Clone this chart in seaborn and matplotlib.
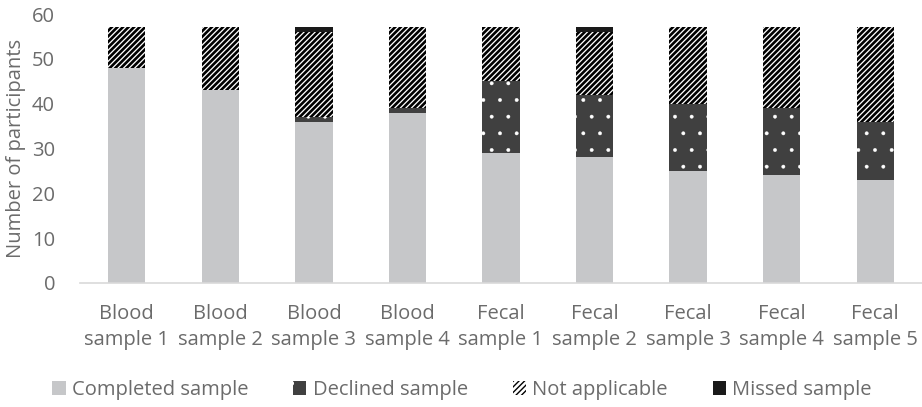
import numpy as np
import pandas as pd
import seaborn as sns
import matplotlib.pyplot as plt
from matplotlib.patches import Patch

# Participant counts per sample type
categories = ["Blood\nsample 1", "Blood\nsample 2", "Blood\nsample 3", "Blood\nsample 4",
              "Fecal\nsample 1", "Fecal\nsample 2", "Fecal\nsample 3", "Fecal\nsample 4",
              "Fecal\nsample 5"]
completed = [48, 43, 36, 38, 29, 28, 25, 24, 23]
declined = [0, 0, 1, 1, 16, 14, 15, 15, 13]
not_applicable = [9, 14, 19, 18, 12, 14, 17, 18, 21]
missed = [0, 0, 1, 0, 0, 1, 0, 0, 0]
series_names = ["Completed sample", "Declined sample", "Not applicable", "Missed sample"]
y_ticks = [0, 10, 20, 30, 40, 50, 60]

sns.set_theme(style="white")
plt.rcParams["font.family"] = ["Open Sans", "DejaVu Sans"]
TEXT = "#6b6b6b"
FS = 14.5

df = pd.DataFrame({"cat": categories, "completed": completed, "declined": declined,
                   "na": not_applicable, "missed": missed})
df["c1"] = df["completed"]
df["c2"] = df["c1"] + df["declined"]
df["c3"] = df["c2"] + df["na"]
df["c4"] = df["c3"] + df["missed"]

fig = plt.figure(figsize=(9.22, 4.07), dpi=100)
ax = fig.add_axes([80 / 922, (407 - 283) / 407, 842 / 922, 269 / 407])

styles = {
    "c4": dict(color="#1a1a1a", edgecolor="#1a1a1a", hatch=None, hlw=1.0),
    "c3": dict(color="white", edgecolor="black", hatch="//////", hlw=1.9),
    "c2": dict(color="#404040", edgecolor="white", hatch=".", hlw=0.3),
    "c1": dict(color="#c6c7c9", edgecolor="#c6c7c9", hatch=None, hlw=1.0),
}

# Stack by overlaying cumulative totals, tallest first
for col in ["c4", "c3", "c2", "c1"]:
    st = styles[col]
    n_before = len(ax.patches)
    with plt.rc_context({"hatch.linewidth": st["hlw"]}):
        sns.barplot(data=df, x="cat", y=col, order=categories, ax=ax,
                    color=st["color"], saturation=1, width=0.4,
                    edgecolor=st["edgecolor"], linewidth=0, hatch=st["hatch"],
                    errorbar=None)
        for p in ax.patches[n_before:]:
            if hasattr(p, "set_hatch_linewidth"):
                p.set_hatch_linewidth(st["hlw"])

ax.set_xlim(-0.5, len(categories) - 0.5)
ax.set_ylim(0, 60)
ax.set_yticks(y_ticks)
ax.set_xlabel("")
ax.set_ylabel("Number of participants", fontsize=FS, color=TEXT, labelpad=4)
ax.tick_params(axis="both", length=0, labelsize=FS, labelcolor=TEXT)
ax.tick_params(axis="x", pad=15)
ax.tick_params(axis="y", pad=18)
for lbl in ax.get_xticklabels():
    lbl.set_linespacing(1.4)
for s in ["top", "right", "left"]:
    ax.spines[s].set_visible(False)
ax.spines["bottom"].set_color("#d9d9d9")
ax.spines["bottom"].set_linewidth(1.2)

handles = []
for name, col in zip(series_names, ["c1", "c2", "c3", "c4"]):
    st = styles[col]
    h = Patch(facecolor=st["color"], edgecolor=st["edgecolor"], hatch=st["hatch"],
              linewidth=0, label=name)
    if hasattr(h, "set_hatch_linewidth"):
        h.set_hatch_linewidth(st["hlw"])
    handles.append(h)

fig.legend(handles=handles, loc="center", bbox_to_anchor=(462 / 922, 1 - 390 / 407),
           ncol=4, frameon=False, fontsize=FS, labelcolor=TEXT,
           handlelength=0.65, handleheight=0.65, handletextpad=0.3,
           columnspacing=2.25, borderpad=0, borderaxespad=0)

fig.savefig("out.png", dpi=100)
